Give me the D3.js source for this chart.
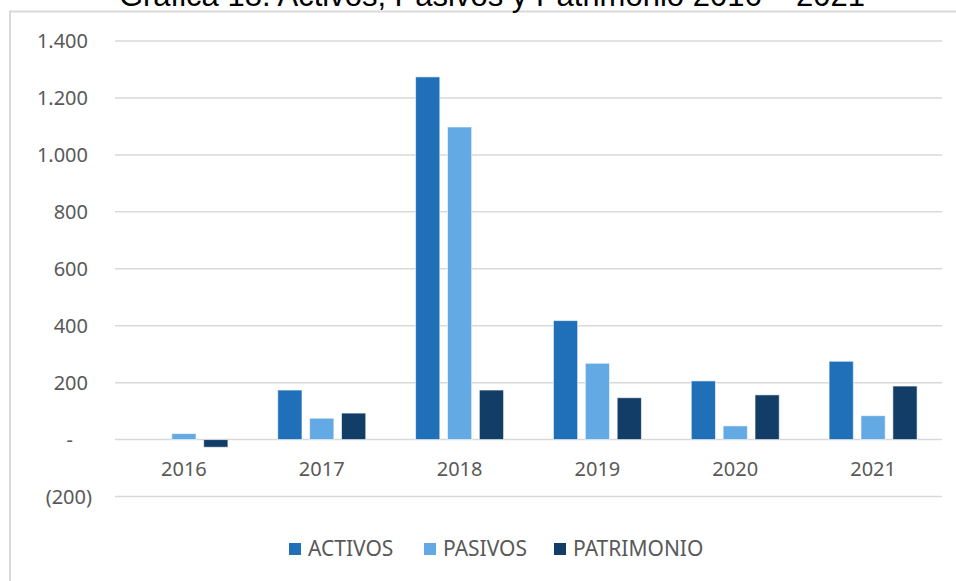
<!DOCTYPE html>
<html>
<head>
<meta charset="utf-8">
<script src="https://cdn.jsdelivr.net/npm/d3@7"></script>
<style>
  body { margin: 0; background: #fff; }
  svg text { font-family: "Noto Sans", "Liberation Sans", sans-serif; }
</style>
</head>
<body>
<div id="chart"></div>
<script>
// data
const years = ["2016", "2017", "2018", "2019", "2020", "2021"];
const seriesNames = ["ACTIVOS", "PASIVOS", "PATRIMONIO"];
const activos = [0, 174, 1274, 418, 206, 275];
const pasivos = [21, 75, 1098, 268, 48, 84];
const patrimonio = [-27, 93, 174, 147, 157, 188];
const yTicks = [-200, 0, 200, 400, 600, 800, 1000, 1200, 1400];
const colors = ["#1f70b8", "#63a9e3", "#123d66"];

const W = 956, H = 581;
const plot = {left: 115, right: 942, top: 41, bottom: 496.5};

const svg = d3.select("#chart").append("svg")
    .attr("width", W)
    .attr("height", H);

// chart frame (partly cropped)
svg.append("rect")
    .attr("x", 10).attr("y", 11.5)
    .attr("width", 1000).attr("height", 700)
    .attr("fill", "none")
    .attr("stroke", "#d9d9d9")
    .attr("stroke-width", 2);

// title, cut off at the top like in the source image
svg.append("text")
    .attr("x", 492).attr("y", 6)
    .attr("text-anchor", "middle")
    .style("font-family", "'Liberation Sans', Arial, sans-serif")
    .style("font-size", "31px")
    .attr("fill", "#000")
    .text("Gráfica 18. Activos, Pasivos y Patrimonio 2016 – 2021");

const x = d3.scaleBand()
    .domain(years)
    .range([plot.left, plot.right]);

const xs = d3.scaleBand()
    .domain(seriesNames)
    .range([x.bandwidth() / 2 - 44, x.bandwidth() / 2 + 44])
    .paddingInner(0.24);

const y = d3.scaleLinear()
    .domain([-200, 1400])
    .range([plot.bottom, plot.top]);

// gridlines
svg.append("g")
  .selectAll("line")
  .data(yTicks)
  .join("line")
    .attr("x1", plot.left).attr("x2", plot.right)
    .attr("y1", d => y(d)).attr("y2", d => y(d))
    .attr("stroke", "#d9d9d9")
    .attr("stroke-width", 1.5);

// y labels, accounting style
function fmtY(d) {
  if (d === 0) return "-";
  const s = d3.format(",")(Math.abs(d)).replace(/,/g, ".");
  return d < 0 ? "(" + s + ")" : s;
}
svg.append("g")
  .selectAll("text")
  .data(yTicks)
  .join("text")
    .attr("x", d => d === 0 ? 73 : (d < 0 ? 92 : 88))
    .attr("y", d => y(d))
    .attr("dy", "0.35em")
    .attr("text-anchor", "end")
    .attr("fill", "#595959")
    .style("font-size", "20px")
    .text(fmtY);

// bars
const allSeries = [activos, pasivos, patrimonio];
const barData = [];
years.forEach((yr, i) => {
  seriesNames.forEach((s, j) => {
    barData.push({year: yr, series: s, value: allSeries[j][i], color: colors[j]});
  });
});

svg.append("g")
  .selectAll("rect")
  .data(barData.filter(d => d.value !== 0))
  .join("rect")
    .attr("x", d => x(d.year) + xs(d.series))
    .attr("width", xs.bandwidth())
    .attr("y", d => Math.min(y(d.value), y(0)))
    .attr("height", d => Math.abs(y(d.value) - y(0)))
    .attr("fill", d => d.color)
    .attr("stroke", "#ffffff")
    .attr("stroke-opacity", 0.6)
    .attr("stroke-width", 1);

// category labels
svg.append("g")
  .selectAll("text")
  .data(years)
  .join("text")
    .attr("x", d => x(d) + x.bandwidth() / 2)
    .attr("y", 469)
    .attr("dy", "0.35em")
    .attr("text-anchor", "middle")
    .attr("fill", "#595959")
    .style("font-size", "20px")
    .text(d => d);

// legend
const legendX = [289, 424, 554];
const legend = svg.append("g")
  .selectAll("g")
  .data(seriesNames)
  .join("g")
    .attr("transform", (d, i) => `translate(${legendX[i]}, 549)`);

legend.append("rect")
    .attr("x", 0).attr("y", -6)
    .attr("width", 12).attr("height", 12)
    .attr("fill", (d, i) => colors[i]);

legend.append("text")
    .attr("x", 19)
    .attr("dy", "0.35em")
    .attr("fill", "#595959")
    .style("font-size", "21px")
    .text(d => d);
</script>
</body>
</html>
